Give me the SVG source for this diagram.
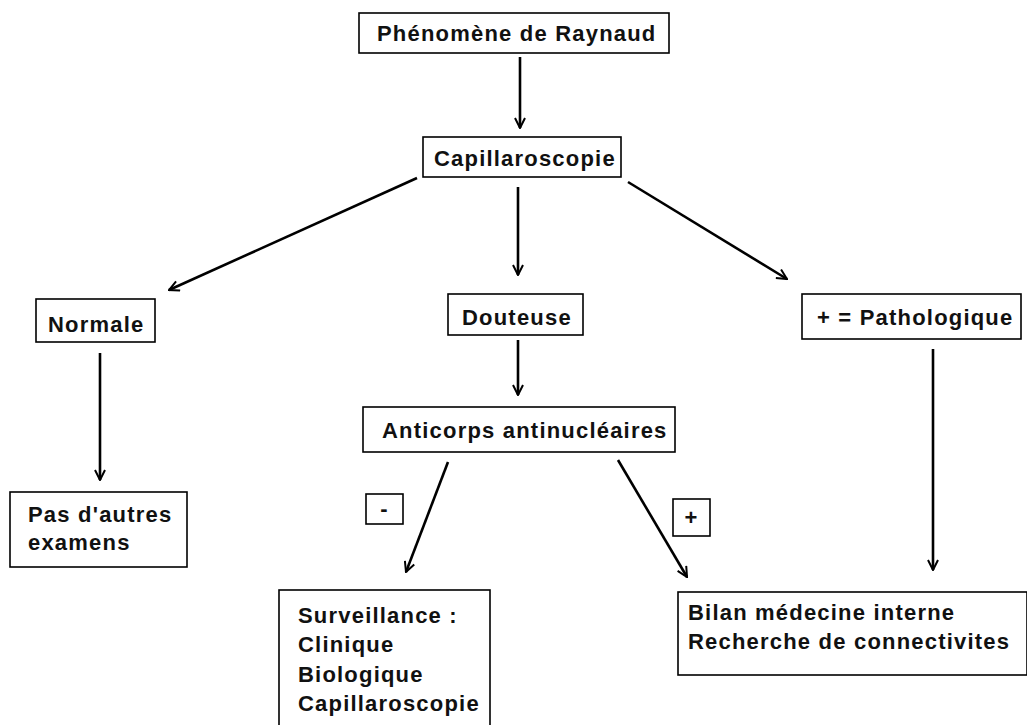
<svg xmlns="http://www.w3.org/2000/svg" width="1027" height="725" viewBox="0 0 1027 725">
<defs>
<marker id="ah" viewBox="0 0 12 12" refX="11" refY="6" markerWidth="12" markerHeight="12" markerUnits="userSpaceOnUse" orient="auto">
<path d="M1,1 L11,6 L1,11" fill="none" stroke="#000" stroke-width="2"/>
</marker>
<style>
.box{fill:#fff;stroke:#000;stroke-width:1.6}
.t{font-family:"Liberation Sans",Arial,sans-serif;font-weight:bold;font-size:22px;letter-spacing:1.2px;fill:#111}
.c{stroke:#000;stroke-width:2.6;fill:none;marker-end:url(#ah)}
</style>
</defs>
<rect width="1027" height="725" fill="#fff"/>
<g id="connectors">
<line class="c" x1="520" y1="57" x2="520" y2="128"/>
<line class="c" x1="417" y1="178" x2="169" y2="290"/>
<line class="c" x1="518" y1="187" x2="518" y2="275"/>
<line class="c" x1="628" y1="182" x2="787" y2="279"/>
<line class="c" x1="100" y1="353" x2="100" y2="480"/>
<line class="c" x1="518" y1="340" x2="518" y2="395"/>
<line class="c" x1="448" y1="462" x2="406" y2="572"/>
<line class="c" x1="618" y1="460" x2="687" y2="577"/>
<line class="c" x1="933" y1="349" x2="933" y2="570"/>
</g>
<g id="n-raynaud"><rect class="box" x="359" y="13" width="310" height="40"/><text class="t" x="377" y="41">Phénomène de Raynaud</text></g>
<g id="n-capillaro"><rect class="box" x="423" y="137" width="198" height="40"/><text class="t" x="434" y="166">Capillaroscopie</text></g>
<g id="n-normale"><rect class="box" x="36" y="299" width="119" height="43"/><text class="t" x="48" y="332">Normale</text></g>
<g id="n-douteuse"><rect class="box" x="448" y="294" width="135" height="41"/><text class="t" x="462" y="325">Douteuse</text></g>
<g id="n-patho"><rect class="box" x="802" y="294" width="219" height="45"/><text class="t" x="817" y="325">+ = Pathologique</text></g>
<g id="n-pas"><rect class="box" x="10" y="492" width="177" height="75"/><text class="t" x="28" y="522">Pas d'autres</text><text class="t" x="28" y="550">examens</text></g>
<g id="n-anticorps"><rect class="box" x="363" y="407" width="312" height="45"/><text class="t" x="382" y="438">Anticorps antinucléaires</text></g>
<g id="n-minus"><rect class="box" x="366" y="494" width="37" height="30"/><text class="t" x="384.5" y="516" text-anchor="middle">-</text></g>
<g id="n-plus"><rect class="box" x="673" y="499" width="37" height="37"/><text class="t" x="691.5" y="525" text-anchor="middle">+</text></g>
<g id="n-surv"><rect class="box" x="279" y="590" width="211" height="140"/><text class="t" x="298" y="623">Surveillance :</text><text class="t" x="298" y="652">Clinique</text><text class="t" x="298" y="682">Biologique</text><text class="t" x="298" y="711">Capillaroscopie</text></g>
<g id="n-bilan"><rect class="box" x="678" y="592" width="349" height="83"/><text class="t" x="688" y="620">Bilan médecine interne</text><text class="t" x="688" y="649">Recherche de connectivites</text></g>
</svg>
